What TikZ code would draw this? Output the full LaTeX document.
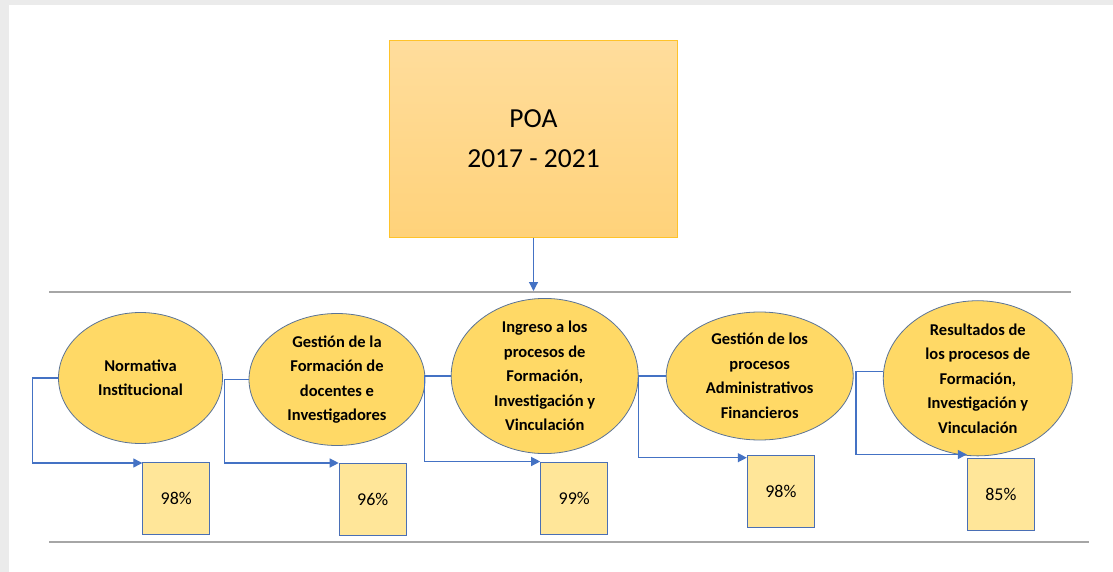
\documentclass[tikz,border=0pt]{standalone}
\usepackage{fontspec}
\setmainfont{Carlito}
\usetikzlibrary{arrows.meta,shapes.geometric}
\definecolor{bggray}{HTML}{EBEBEB}
\definecolor{rulegray}{HTML}{A6A6A6}
\definecolor{poatop}{HTML}{FFDD9C}
\definecolor{poabot}{HTML}{FFD27A}
\definecolor{poaedge}{HTML}{FFC32A}
\definecolor{ellfill}{HTML}{FFD966}
\definecolor{elledge}{HTML}{5A7396}
\definecolor{boxfill}{HTML}{FFE699}
\definecolor{boxedge}{HTML}{4A6FB5}
\definecolor{conn}{HTML}{4472C4}
\tikzset{
  poabox/.style={draw=poaedge, line width=1pt, top color=poatop, bottom color=poabot,
    minimum width=288pt, minimum height=196pt, inner sep=0pt, align=center,
    font=\fontsize{27.5}{40}\selectfont},
  topic/.style={ellipse, draw=elledge, line width=0.8pt, fill=ellfill, inner sep=0pt,
    align=center, font=\fontsize{16.5}{24.5}\selectfont\bfseries},
  pctbox/.style={draw=boxedge, line width=1pt, fill=boxfill, inner sep=0pt,
    minimum width=67pt, minimum height=72pt, font=\fontsize{18}{20}\selectfont},
  link/.style={draw=conn, line width=1.2pt, -{Triangle[length=9pt,width=9pt]}},
  rule/.style={draw=rulegray, line width=1.3pt}
}
\begin{document}
\begin{tikzpicture}[x=1pt,y=-1pt]
\useasboundingbox (0,0) rectangle (1113,572);
\fill[bggray] (0,0) rectangle (1113,572);
\fill[white] (8.7,4.7) rectangle (1113,572);
% horizontal rules
\coordinate (r1a) at (49,292);
\coordinate (r1b) at (1071,292);
\coordinate (r2a) at (49,542);
\coordinate (r2b) at (1089,542);
\draw[rule] (r1a) -- (r1b);
\draw[rule] (r2a) -- (r2b);
% POA box
\node[poabox] (poa) at (533.5,139) {POA\\2017 - 2021};
\coordinate (poatip) at (533.5,291);
\draw[link] (poa.south) -- (poatip);
% ellipses
\node[topic, minimum width=164pt, minimum height=131pt] (e1) at (140.5,378) {Normativa\\Institucional};
\node[topic, minimum width=176pt, minimum height=132pt] (e2) at (337,379.5) {Gestión de la\\Formación de\\docentes e\\Investigadores};
\node[topic, minimum width=187pt, minimum height=132pt] (e3) at (544.7,376) {Ingreso a los\\procesos de\\Formación,\\Investigación y\\Vinculación};
\node[topic, minimum width=187pt, minimum height=128pt] (e4) at (759.7,376) {Gestión de los\\procesos\\Administrativos\\Financieros};
\node[topic, minimum width=189pt, minimum height=130pt] (e5) at (977.8,378.3) {Resultados de\\los procesos de\\Formación,\\Investigación y\\Vinculación};
% percentage boxes
\node[pctbox] (b1) at (176.3,498) {98\%};
\node[pctbox] (b2) at (372.7,499.5) {96\%};
\node[pctbox] (b3) at (574.2,498) {99\%};
\node[pctbox] (b4) at (780.8,491.2) {98\%};
\node[pctbox] (b5) at (1000.8,494) {85\%};
% connectors
\draw[link] (e1.west) -- ++(-26,0) |- ([yshift=-1.5pt]b1.north west);
\draw[link] (e2.west) -- ++(-24,0) |- ([yshift=0pt]b2.north west);
\draw[link] (e3.west) -- ++(-26,0) |- ([yshift=0pt]b3.north west);
\draw[link] (e4.west) -- ++(-27,0) |- ([yshift=-3pt]b4.north west);
\draw[link] ([yshift=7pt]e5.west) -- ++(-27,0) |- ([yshift=3pt]b5.north west);
\end{tikzpicture}
\end{document}
